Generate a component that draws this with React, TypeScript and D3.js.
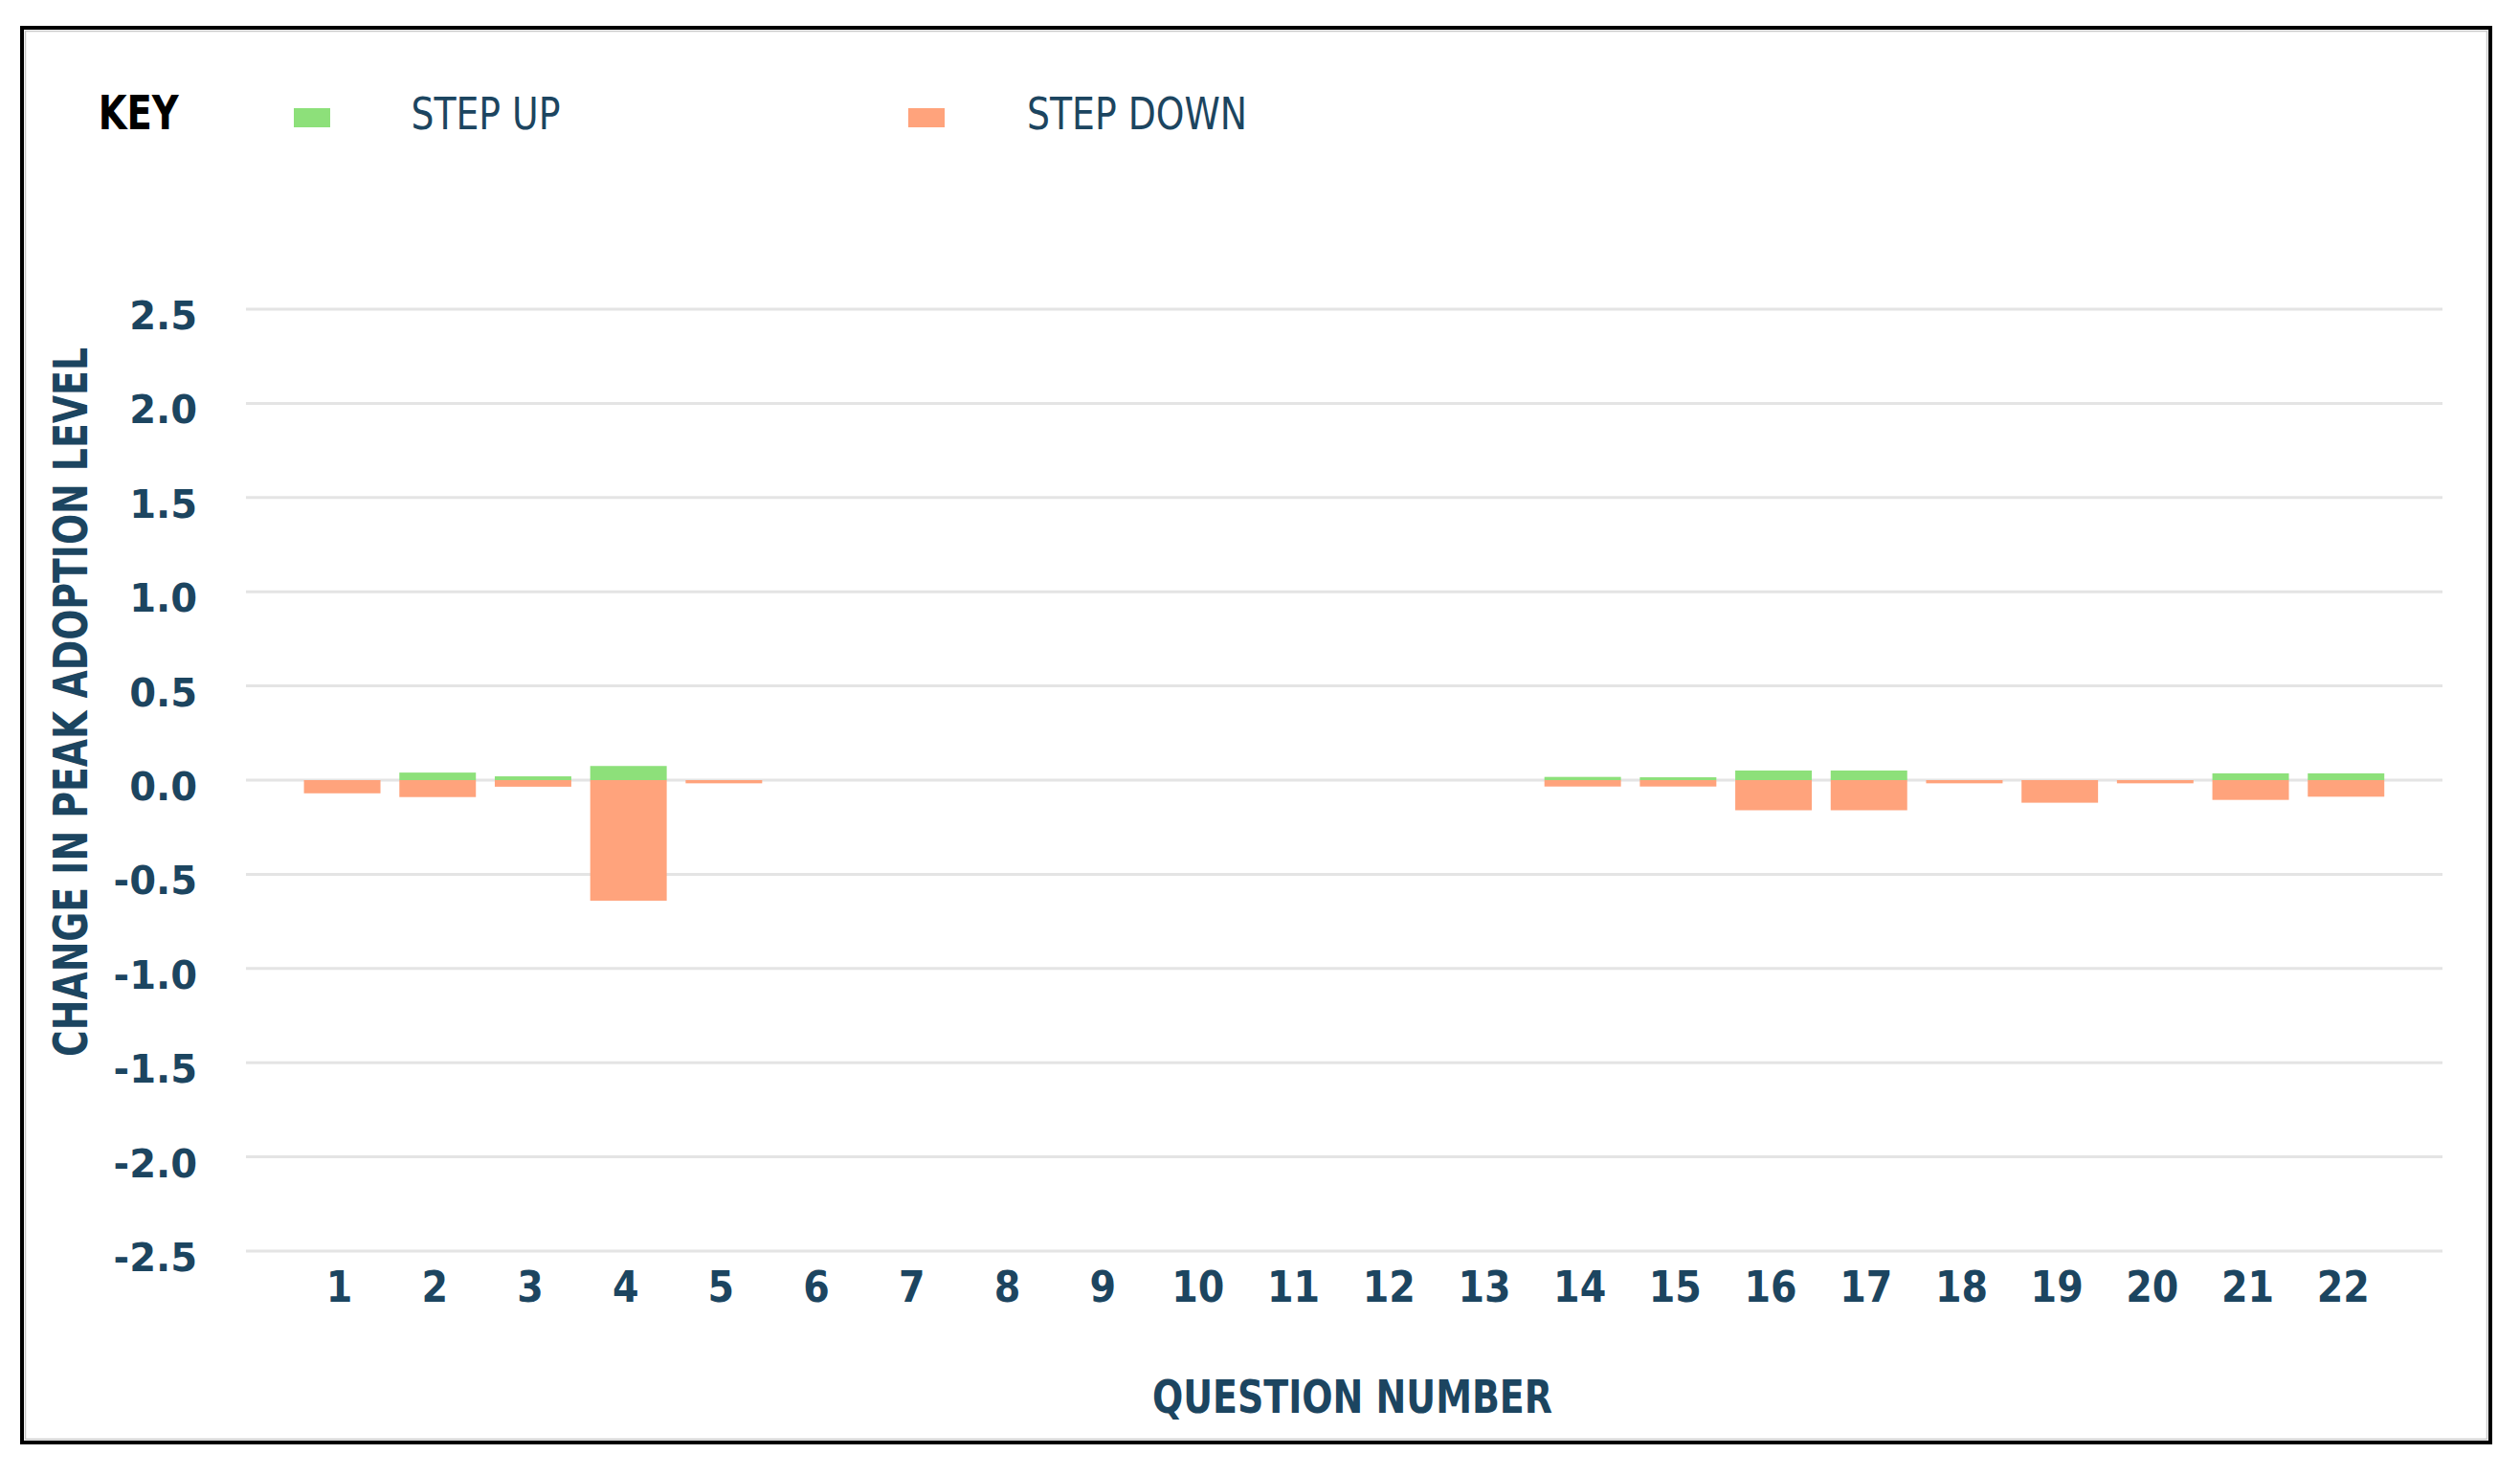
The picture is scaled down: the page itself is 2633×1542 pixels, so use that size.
import React from "react";
import * as d3 from "d3";

const questions = ["1","2","3","4","5","6","7","8","9","10","11","12","13","14","15","16","17","18","19","20","21","22"];
const stepUp = [0, 0.04, 0.02, 0.075, 0, 0, 0, 0, 0, 0, 0, 0, 0, 0.017, 0.015, 0.051, 0.051, 0, 0, 0, 0.036, 0.036];
const stepDown = [-0.07, -0.09, -0.035, -0.64, -0.017, 0, 0, 0, 0, 0, 0, 0, 0, -0.034, -0.034, -0.16, -0.16, -0.017, -0.12, -0.017, -0.105, -0.088];
const yTicks = [2.5, 2.0, 1.5, 1.0, 0.5, 0.0, -0.5, -1.0, -1.5, -2.0, -2.5];
const legendItems = ["STEP UP", "STEP DOWN"];
const legendTitle = "KEY";
const yTitle = "CHANGE IN PEAK ADOPTION LEVEL";
const xTitle = "QUESTION NUMBER";

const W = 2633;
const H = 1542;
const GREEN = "#8de07a";
const SALMON = "#ffa37c";
const NAVY = "#1c4560";
const NARROW = "'Liberation Sans Narrow', 'DejaVu Sans Condensed', 'Roboto Condensed', sans-serif";

const fmt = d3.formatLocale({ decimal: ".", thousands: ",", grouping: [3], currency: ["", ""], minus: "-" }).format(".1f");

export default function App() {
  const x = d3.scaleBand<string>().domain(questions).range([307.7, 2501.1]).paddingInner(0.198).paddingOuter(0.099);
  const y = d3.scaleLinear().domain([-2.5, 2.5]).range([1307, 323]);
  const gridX0 = 257;
  const gridX1 = 2552;

  return (
    <svg width={W} height={H} style={{ position: "absolute", left: 0, top: 0, background: "#fff" }}>
      <rect x={0} y={0} width={W} height={H} fill="#fff" />
      {/* frame */}
      <rect x={23} y={29} width={2579} height={1478} fill="none" stroke="#000" strokeWidth={4} />
      <rect x={26.5} y={32.5} width={2572} height={1471} fill="none" stroke="#c8c8c8" strokeWidth={1.5} />

      {/* legend */}
      <text x={102.7} y={135} fontFamily={NARROW} fontWeight="bold" fontSize={50} fill="#000" textLength={84} lengthAdjust="spacingAndGlyphs">{legendTitle}</text>
      <rect x={307} y={113} width={38} height={20} fill={GREEN} />
      <text x={429.5} y={135} fontFamily={NARROW} fontSize={47} fill={NAVY} textLength={156} lengthAdjust="spacingAndGlyphs">{legendItems[0]}</text>
      <rect x={949} y={113} width={38} height={20} fill={SALMON} />
      <text x={1073} y={135} fontFamily={NARROW} fontSize={47} fill={NAVY} textLength={230} lengthAdjust="spacingAndGlyphs">{legendItems[1]}</text>

      {/* gridlines */}
      {yTicks.map((t) => (
        <line key={"g" + t} x1={gridX0} x2={gridX1} y1={y(t)} y2={y(t)} stroke="#e4e4e4" strokeWidth={3} />
      ))}

      {/* y tick labels */}
      {yTicks.map((t) => (
        <text key={"t" + t} x={206} y={y(t) + 21} textAnchor="end" fontFamily="'DejaVu Sans', Verdana, sans-serif" fontWeight="bold" fontSize={40} fill={NAVY}>
          {fmt(t)}
        </text>
      ))}

      {/* bars */}
      {questions.map((q, i) => (
        <g key={"b" + q}>
          {stepUp[i] > 0 && (
            <rect x={x(q)} y={y(stepUp[i])} width={x.bandwidth()} height={y(0) - y(stepUp[i])} fill={GREEN} />
          )}
          {stepDown[i] < 0 && (
            <rect x={x(q)} y={y(0)} width={x.bandwidth()} height={y(stepDown[i]) - y(0)} fill={SALMON} />
          )}
        </g>
      ))}

      {/* x tick labels */}
      {questions.map((q) => (
        <text key={"x" + q} x={(x(q) as number) + x.bandwidth() / 2 - 3} y={1360} textAnchor="middle" fontFamily="'DejaVu Sans Condensed', 'DejaVu Sans', sans-serif" fontWeight="bold" fontSize={44} fill={NAVY}>
          {q}
        </text>
      ))}

      {/* axis titles */}
      <text x={1413} y={1476} textAnchor="middle" fontFamily={NARROW} fontWeight="bold" fontSize={48} fill={NAVY} textLength={418} lengthAdjust="spacingAndGlyphs">{xTitle}</text>
      <text transform="translate(91,733.5) rotate(-90)" x={0} y={0} textAnchor="middle" fontFamily={NARROW} fontWeight="bold" fontSize={49} fill={NAVY} textLength={741} lengthAdjust="spacingAndGlyphs">{yTitle}</text>
    </svg>
  );
}
